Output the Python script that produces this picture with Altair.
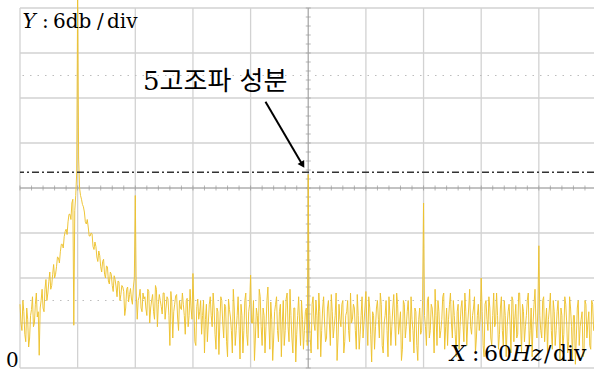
import altair as alt
import pandas as pd
import numpy as np

# ---- data (dB) : even frequencies 0,2,...,600 Hz ----
band_low_db = [  # 0 .. 128 Hz (fundamental skirt, 2nd harmonic)
    8.5, 5.0, 7.5, 3.5, 6.5, 4.0, 7.8, 5.5, 8.5, 6.8,
    1.7, 9.0, 8.0, 10.5, 9.0, 11.5, 10.5, 12.5, 12.0, 13.5,
    14.7, 15.5, 16.5, 17.5, 18.5, 19.5, 20.5, 22.0, 5.7, 23.0,
    50.0, 24.0, 22.5, 21.5, 19.5, 19.8, 17.6, 18.0, 16.2, 16.8,
    14.8, 15.6, 13.5, 14.2, 12.5, 13.6, 11.6, 12.8, 11.0, 12.3,
    10.8, 11.6, 9.0, 11.0, 10.2, 8.0, 10.8, 9.8, 9.2, 10.8,
    23.0, 6.5, 9.5, 8.0, 10.0,
]
band_mid_db = [  # 130 .. 298 Hz
    9.5, 7.0, 10.2, 8.0, 9.8, 6.5, 10.5, 8.5, 9.0, 7.2,
    10.0, 8.0, 9.2, 3.0, 8.8, 7.5, 9.6, 6.8, 9.0, 7.8,
    8.5, 4.5, 9.3, 7.0, 8.0, 12.6, 3.5, 8.2, 6.5, 9.0,
    7.0, 2.0, 8.5, 6.0, 9.5, 5.5, 8.0, 2.5, 7.5, 6.0,
    9.0, 4.0, 8.2, 1.5, 7.8, 5.0, 10.5, 3.0, 7.0, 5.5,
    8.5, 2.0, 9.0, 4.5, 7.5, 12.4, 6.0, 1.0, 8.0, 4.0,
    9.5, 3.0, 7.0, 5.5, 10.8, 2.5, 6.5, 4.0, 8.5, 5.0,
    7.5, 1.5, 9.0, 5.0, 10.0, 3.5, 7.0, 2.0, 8.0, 4.5,
    9.5, 3.0, 6.5, 5.0, 8.0,
]
band_high_db = [  # 300 .. 600 Hz
    25.8,
    4.0, 8.5, 6.0, 9.0, 2.5, 7.5, 5.0, 9.5, 3.5,
    8.0, 6.0, 9.8, 4.0, 7.0, 1.0, 8.5, 5.5, 9.0, 3.5,
    7.5, 5.0, 10.0, 6.5, 8.0, 2.5, 7.0, 4.5, 9.5, 6.0,
    10.2, 3.0, 8.0, 0.8, 7.0, 5.5, 9.0, 4.0, 8.5, 2.0,
    7.0, 5.0, 9.5, 3.0, 8.0, 6.0, 10.0, 4.5, 7.5, 2.5,
    8.5, 5.5, 9.0, 3.5, 6.5, 2.0, 7.5, 1.0, 8.0, 5.0,
    22.0,
    5.5, 9.0, 4.0, 8.5, 6.0, 10.5, 3.0, 7.5, 5.0,
    9.5, 2.5, 8.0, 6.5, 10.0, 4.0, 7.0, 1.5, 8.5, 5.5,
    9.0, 3.5, 7.5, 6.0, 10.5, 4.5, 8.0, 2.0, 7.0, 5.0,
    12.0,
    3.0, 8.5, 6.5, 9.5, 4.0, 7.0, 5.5, 10.0, 2.5,
    8.0, 5.0, 9.0, 1.5, 7.5, 6.0, 9.5, 3.5, 8.5, 4.5,
    10.0, 2.0, 7.5, 5.5, 9.0, 3.0, 8.0, 6.0, 10.5, 4.0,
    16.3,
    5.0, 9.0, 3.5, 8.0, 6.5, 10.0, 2.5, 7.5, 5.0,
    9.0, 1.0, 7.0, 4.5, 8.5, 2.0, 9.5, 5.5, 7.0, 0.5,
    8.0, 3.0, 6.5, 1.5, 9.0, 4.0, 7.5, 2.5, 8.5, 5.0,
    6.0,
]
# ---- data (dB) : odd frequencies 1,3,...,599 Hz ----
odd_low_db = [  # 1 .. 129 Hz
    6.0, 9.0, 4.5, 8.0, 2.8, 7.0, 9.5, 6.0, 10.0, 7.5,
    8.0, 10.5, 7.5, 11.8, 10.0, 12.8, 11.0, 13.8, 12.5, 14.8,
    14.0, 16.5, 16.0, 18.2, 17.8, 20.5, 19.8, 22.5, 21.0, 26.0,
    28.0, 23.0, 21.8, 20.8, 19.2, 18.8, 17.6, 17.9, 15.8, 16.2,
    14.2, 15.0, 12.8, 14.5, 12.0, 13.5, 11.2, 12.5, 10.2, 11.8,
    9.5, 11.5, 9.8, 10.8, 7.0, 10.5, 8.8, 10.6, 8.5, 12.0,
    10.0, 9.0, 10.5, 7.5, 9.2,
]
odd_mid_db = [  # 131 .. 299 Hz
    8.0, 10.5, 6.0, 9.0, 7.5, 11.0, 5.5, 9.8, 8.2, 10.0,
    6.5, 9.5, 7.0, 10.2, 4.0, 8.5, 9.8, 5.0, 8.0, 10.0,
    7.0, 9.0, 5.5, 10.5, 6.5, 8.0, 3.0, 9.2, 7.5, 4.5,
    9.0, 6.5, 3.5, 8.5, 7.0, 10.0, 4.5, 8.0, 1.8, 9.5,
    6.0, 8.5, 3.5, 9.2, 6.8, 2.0, 8.0, 5.0, 9.5, 1.2,
    7.0, 5.0, 10.0, 3.0, 8.5, 6.0, 9.0, 4.0, 7.0, 10.5,
    5.5, 8.0, 2.0, 9.0, 6.0, 8.8, 1.0, 7.5, 9.5, 3.5,
    8.5, 6.0, 3.0, 9.2, 5.5, 10.5, 4.0, 8.0, 0.8, 7.0,
    6.0, 9.0, 2.5, 7.5, 3.0,
]
odd_high_db = [  # 301 .. 599 Hz
    6.5, 2.0, 9.5, 5.0, 7.0, 10.0, 1.5, 8.0, 6.0, 4.0,
    9.0, 3.0, 7.5, 5.5, 10.0, 4.0, 6.5, 8.5, 2.0, 7.0,
    9.0, 3.5, 6.0, 8.5, 5.0, 9.8, 2.5, 7.0, 4.0, 8.0,
    6.0, 9.5, 4.5, 7.5, 2.5, 8.0, 6.5, 10.0, 3.0, 6.0,
    9.0, 1.5, 7.0, 5.5, 9.8, 3.0, 8.5, 6.0, 1.0, 9.0,
    4.0, 7.5, 6.0, 9.5, 5.0, 8.0, 3.0, 6.5, 4.5, 9.0,
    7.0, 3.0, 9.5, 5.0, 8.0, 2.0, 7.0, 9.0, 4.0, 6.5,
    10.0, 5.5, 3.0, 8.5, 6.0, 9.0, 4.5, 7.5, 2.5, 8.0,
    6.0, 10.0, 3.0, 8.0, 5.5, 7.0, 9.5, 4.0, 8.5, 6.5,
    7.5, 1.5, 9.0, 5.0, 8.0, 3.0, 10.0, 6.0, 7.0, 4.5,
    9.5, 3.0, 7.0, 5.5, 8.5, 2.0, 9.0, 6.5, 4.0, 10.0,
    6.0, 8.5, 3.5, 7.0, 10.0, 5.0, 1.5, 8.5, 6.0, 8.0,
    7.0, 4.0, 9.5, 6.0, 2.0, 8.0, 5.0, 9.0, 3.0, 7.5,
    5.5, 8.0, 2.5, 9.5, 6.0, 3.5, 8.0, 1.0, 7.0, 4.0,
    9.0, 5.5, 7.5, 2.0, 8.5, 6.0, 3.0, 9.0, 5.0, 7.0,
]

grid_hz = [0, 60, 120, 180, 240, 300, 360, 420, 480, 540, 600]
grid_db = [0, 6, 12, 18, 24, 30, 36, 42, 48]
center_hz = 300
center_db = 24
marker_db = 26.1          # dash-dot reference level (5th harmonic)
dotted_db = [9, 39]
arrow_from = (255.5, 35.5)   # (Hz, dB)
arrow_to = (293.5, 27.2)
arrow_angle = 149

# ---- build ----
even = band_low_db + band_mid_db + band_high_db
odd = odd_low_db + odd_mid_db + odd_high_db
spec = pd.concat([
    pd.DataFrame({"f": np.arange(len(even)) * 2, "db": even}),
    pd.DataFrame({"f": np.arange(len(odd)) * 2 + 1, "db": odd}),
]).sort_values("f").reset_index(drop=True)

W, H = 574, 360
xs = alt.Scale(domain=[0, 597.4], nice=False, zero=False)
ys = alt.Scale(domain=[0, 48], nice=False, zero=False)

grid_col = "#d2d2d2"

gridx = alt.Chart(pd.DataFrame({"f": grid_hz})).mark_rule(color=grid_col, strokeWidth=1.3).encode(
    x=alt.X("f:Q", scale=xs, axis=None))
gridy = alt.Chart(pd.DataFrame({"db": grid_db})).mark_rule(color=grid_col, strokeWidth=1.3).encode(
    y=alt.Y("db:Q", scale=ys, axis=None))

dotted = alt.Chart(pd.DataFrame({"db": dotted_db})).mark_rule(
    color="#bdbdbd", strokeWidth=1, strokeDash=[1.5, 6]).encode(y=alt.Y("db:Q", scale=ys))

cx = alt.Chart(pd.DataFrame({"f": [center_hz]})).mark_rule(color="#a8a8a8", strokeWidth=1).encode(
    x=alt.X("f:Q", scale=xs))
cy = alt.Chart(pd.DataFrame({"db": [center_db]})).mark_rule(color="#a8a8a8", strokeWidth=1).encode(
    y=alt.Y("db:Q", scale=ys))

tick_hz = [i * 12 for i in range(0, 50)]
tick_db = [round(i * 1.2, 2) for i in range(0, 41)]
ticks_h = alt.Chart(pd.DataFrame({"f": tick_hz, "db": [center_db] * len(tick_hz)})).mark_tick(
    orient="vertical", size=5, thickness=1, color="#999999").encode(
    x=alt.X("f:Q", scale=xs), y=alt.Y("db:Q", scale=ys))
ticks_v = alt.Chart(pd.DataFrame({"f": [center_hz] * len(tick_db), "db": tick_db})).mark_tick(
    orient="horizontal", size=5, thickness=1, color="#999999").encode(
    x=alt.X("f:Q", scale=xs), y=alt.Y("db:Q", scale=ys))

dashdot = alt.Chart(pd.DataFrame({"db": [marker_db]})).mark_rule(
    color="#333333", strokeWidth=1.3, strokeDash=[7, 3, 2, 3]).encode(y=alt.Y("db:Q", scale=ys))

line = alt.Chart(spec).mark_line(color="#EDC22E", strokeWidth=1.0, opacity=0.95).encode(
    x=alt.X("f:Q", scale=xs), y=alt.Y("db:Q", scale=ys), order="f:Q")

arr = pd.DataFrame({"f": [arrow_from[0]], "db": [arrow_from[1]],
                    "f2": [arrow_to[0]], "db2": [arrow_to[1]]})
arrow_line = alt.Chart(arr).mark_rule(color="black", strokeWidth=2).encode(
    x=alt.X("f:Q", scale=xs), y=alt.Y("db:Q", scale=ys), x2="f2:Q", y2="db2:Q")
arrow_head = alt.Chart(arr).mark_point(shape="triangle", filled=True, color="black",
                                       size=60, angle=arrow_angle, opacity=1).encode(
    x=alt.X("f2:Q", scale=xs), y=alt.Y("db2:Q", scale=ys))

serif = "DejaVu Serif"
def label(txt, x, y, size=20, italic=False, font=serif):
    kw = dict(font=font, fontSize=size, align="left", baseline="alphabetic", color="black")
    if italic:
        kw["fontStyle"] = "italic"
    return alt.Chart(pd.DataFrame({"t": [txt]})).mark_text(**kw).encode(
        text="t:N", x=alt.value(x), y=alt.value(y))

texts = [
    label("Y", 2.5, 19.5, italic=True),
    label(":", 22, 19.5),
    label("6db", 33, 19.5),
    label("/", 77, 19.5),
    label("div", 87, 19.5),
    label("5고조파 성분", 123, 81.5, size=26, font="DejaVu Serif, Noto Sans CJK KR"),
    label("0", -14, 359, size=20),
    label("X", 430, 352.7, size=22, italic=True),
    label(":", 452, 352.7, size=22),
    label("60", 464, 352.7, size=22),
    label("Hz", 492, 352.7, size=22, italic=True),
    label("/", 524, 352.7, size=22),
    label("div", 533, 352.7, size=22),
]

chart = alt.layer(gridx, gridy, dotted, cx, cy, ticks_h, ticks_v, line, dashdot,
                  arrow_line, arrow_head, *texts).properties(
    width=W, height=H,
    autosize=alt.AutoSizeParams(type="none"),
    padding={"left": 20, "top": 8, "right": 0, "bottom": 3},
    background="white",
).configure_view(stroke=None)

chart.save("out.html", embed_options={"renderer": "svg", "actions": False})
